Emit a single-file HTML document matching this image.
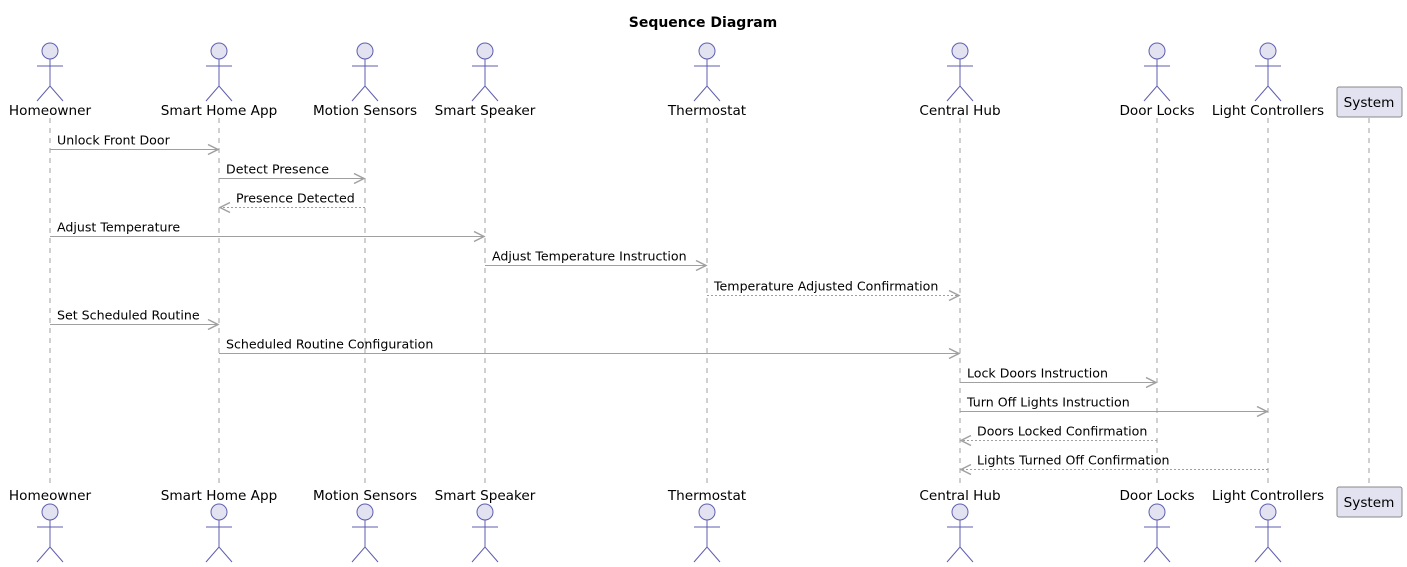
<!DOCTYPE html>
<html><head><meta charset="utf-8"><style>
html,body{margin:0;padding:0;background:#fff;}
svg{display:block;font-family:"DejaVu Sans","Liberation Sans",sans-serif;}
</style></head><body>
<svg id="d" width="1407" height="567" viewBox="0 0 1407 567">
<text x="703" y="27" text-anchor="middle" font-size="14" font-weight="bold" fill="#000">Sequence Diagram</text>
</svg>
<script>
const participants = ["Homeowner","Smart Home App","Motion Sensors","Smart Speaker","Thermostat","Central Hub","Door Locks","Light Controllers","System"];
const lifelineX = [50,219,365,485,707,960,1157,1268,1369];
const kinds = ["actor","actor","actor","actor","actor","actor","actor","actor","box"];
const allFrom=[0,1,2,0,3,4,0,1,5,5,6,7];
const allTo=[1,2,1,3,4,5,1,5,6,7,5,5];
const allText=["Unlock Front Door","Detect Presence","Presence Detected","Adjust Temperature","Adjust Temperature Instruction","Temperature Adjusted Confirmation","Set Scheduled Routine","Scheduled Routine Configuration","Lock Doors Instruction","Turn Off Lights Instruction","Doors Locked Confirmation","Lights Turned Off Confirmation"];
const allDashed=[0,0,1,0,0,1,0,0,0,0,1,1];
const svg=document.getElementById('d');const NS='http://www.w3.org/2000/svg';
function mk(t,a,p){const e=document.createElementNS(NS,t);for(const k in a)e.setAttribute(k,a[k]);(p||svg).appendChild(e);return e;}
function msgY(i){return 149+i*29.1;}
participants.forEach((n,i)=>{
  const x=lifelineX[i];
  const ll=mk('line',{x1:x,y1:118,x2:x,y2:484,stroke:'#a0a0a0','stroke-dasharray':'5,5','stroke-width':1});
  
  
  [0,1].forEach(b=>{
    const g=mk('g',{});
    
    
    if(kinds[i]==='actor'){
      const hy=b?512:51;
      mk('circle',{cx:x,cy:hy,r:8,fill:'#e2e2f0',stroke:'#5e5eb0','stroke-width':1},g);
      mk('line',{x1:x,y1:hy+8,x2:x,y2:hy+35,stroke:'#5e5eb0'},g);
      mk('line',{x1:x-13,y1:hy+15,x2:x+13,y2:hy+15,stroke:'#5e5eb0'},g);
      mk('polyline',{points:(x-13)+','+(hy+50)+' '+x+','+(hy+35)+' '+(x+13)+','+(hy+50),fill:'none',stroke:'#5e5eb0'},g);
      const t=mk('text',{x:x,y:b?500:115,'text-anchor':'middle','font-size':13.6,fill:'#000'},g);t.textContent=n;
    }else{
      const by=b?487:87;
      mk('rect',{x:x-32,y:by,width:65,height:30,rx:2,fill:'#e2e2f0',stroke:'#888','stroke-width':1},g);
      const t=mk('text',{x:x,y:by+20,'text-anchor':'middle','font-size':13.6,fill:'#000'},g);t.textContent=n;
    }
  });
});
allText.forEach((m,i)=>{
  const y=Math.round(msgY(i))+0.5;const x1=lifelineX[allFrom[i]],x2=lifelineX[allTo[i]];
  const dir=x2>x1?1:-1;
  const g=mk('g',{});
  
  
  const a={x1:x1,y1:y,x2:x2-dir*1,y2:y,stroke:'#a0a0a0','stroke-width':1};
  if(allDashed[i])a['stroke-dasharray']='2,2';
  mk('line',a,g);
  mk('polyline',{points:(x2-dir*11)+','+(y-5)+' '+(x2-dir)+','+y+' '+(x2-dir*11)+','+(y+5),fill:'none',stroke:'#a0a0a0','stroke-width':1.5},g);
  const tx=Math.min(x1,x2)+(dir>0?7:17);
  const t=mk('text',{x:tx,y:y-5,'font-size':12.6,fill:'#000'},g);t.textContent=m;
});
</script>
</body></html>
